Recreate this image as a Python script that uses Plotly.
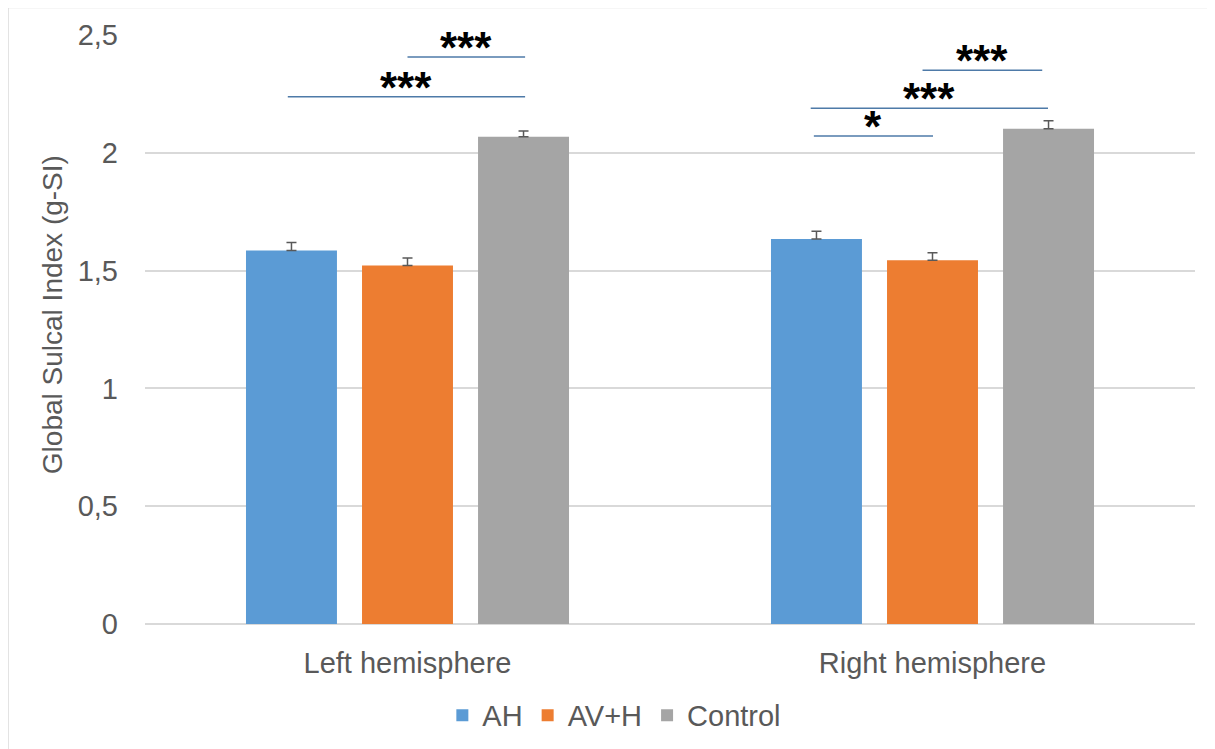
import plotly.graph_objects as go

categories = ["Left hemisphere", "Right hemisphere"]
series_names = ["AH", "AV+H", "Control"]
ah_values = [1.585, 1.634]
avh_values = [1.522, 1.544]
control_values = [2.068, 2.102]
ah_err = [0.034, 0.033]
avh_err = [0.032, 0.032]
control_err = [0.025, 0.034]
colors = ["#5B9BD5", "#ED7D31", "#A5A5A5"]

# significance brackets: category index, offsets (category units), level, label
sig_cat = [0, 0, 1, 1, 1]
sig_x0 = [0.0, -0.228, -0.019, -0.232, -0.226]
sig_x1 = [0.224, 0.224, 0.209, 0.220, 0.001]
sig_y = [2.407, 2.238, 2.350, 2.189, 2.071]
sig_label = ["***", "***", "***", "***", "*"]

y_ticks = [0, 0.5, 1, 1.5, 2, 2.5]

fig = go.Figure()
for name, vals, errs, col in zip(series_names,
                                 [ah_values, avh_values, control_values],
                                 [ah_err, avh_err, control_err], colors):
    fig.add_trace(go.Bar(
        name=name, x=categories, y=vals, marker_color=col, marker_line_width=0,
        error_y=dict(type="data", array=errs, symmetric=False, arrayminus=[0] * len(errs),
                     color="#595959", thickness=1.5, width=5),
    ))

for c, x0, x1, yv, lab in zip(sig_cat, sig_x0, sig_x1, sig_y, sig_label):
    fig.add_shape(type="line", xref="x", yref="y", x0=c + x0, x1=c + x1, y0=yv, y1=yv,
                  line=dict(color="#4E7AA8", width=1.5))
    fig.add_annotation(x=c + (x0 + x1) / 2, y=yv, xref="x", yref="y", text=lab,
                       showarrow=False, yanchor="bottom", yshift=-17,
                       font=dict(family="Liberation Sans", size=44, color="#000000", weight="bold"))

# outer frame (top and left edges)
fig.add_shape(type="line", xref="paper", yref="paper", x0=-0.1305, x1=1.03, y0=1.0465, y1=1.0465,
              line=dict(color="#D9D9D9", width=1.5))
fig.add_shape(type="line", xref="paper", yref="paper", x0=-0.1305, x1=-0.1305, y0=1.0465, y1=-0.23,
              line=dict(color="#D9D9D9", width=1.5))

fig.add_annotation(xref="paper", yref="paper", x=-0.0886, y=0.526, text="Global Sulcal Index (g-SI)",
                   textangle=-90, showarrow=False, xanchor="center", yanchor="middle",
                   font=dict(family="Liberation Sans", size=28, color="#595959"))

fig.update_layout(
    width=1215, height=749,
    margin=dict(l=137, r=28, t=27, b=133),
    paper_bgcolor="white", plot_bgcolor="white",
    separators=",.",
    barmode="group", bargap=0.337, bargroupgap=0.216,
    font=dict(family="Liberation Sans", size=29, color="#595959"),
    showlegend=True,
    legend=dict(orientation="h", x=0.447, xanchor="center", y=-0.155, yanchor="middle",
                font=dict(size=29, color="#595959"), itemwidth=30, traceorder="normal"),
    xaxis=dict(showgrid=False, showline=False, ticks="", ticklabelstandoff=19,
               tickfont=dict(size=29, color="#595959")),
    yaxis=dict(range=[0, 2.5], tickvals=y_ticks, showgrid=True, gridcolor="#D9D9D9", gridwidth=1.5,
               zeroline=True, zerolinecolor="#D9D9D9", zerolinewidth=1.5, showline=False,
               ticklabelstandoff=26, tickfont=dict(size=29, color="#595959")),
)

fig.write_html("out.html")
